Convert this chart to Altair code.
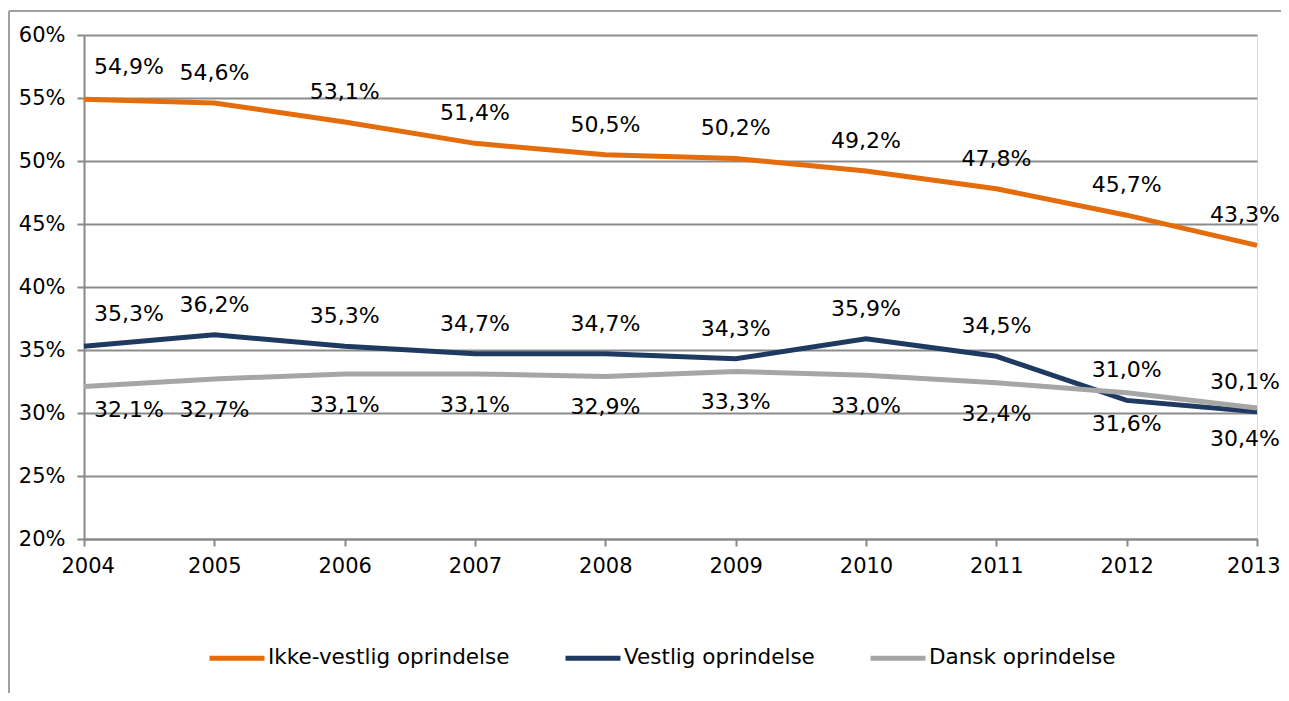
import altair as alt
import pandas as pd

years = [2004, 2005, 2006, 2007, 2008, 2009, 2010, 2011, 2012, 2013]
series = ["Ikke-vestlig oprindelse", "Vestlig oprindelse", "Dansk oprindelse"]
ikke_vestlig = [54.9, 54.6, 53.1, 51.4, 50.5, 50.2, 49.2, 47.8, 45.7, 43.3]
vestlig = [35.3, 36.2, 35.3, 34.7, 34.7, 34.3, 35.9, 34.5, 31.0, 30.1]
dansk = [32.1, 32.7, 33.1, 33.1, 32.9, 33.3, 33.0, 32.4, 31.6, 30.4]
colors = ["#E46C0A", "#1F3A60", "#A6A6A6"]
y_ticks = [20, 25, 30, 35, 40, 45, 50, 55, 60]

rows = []
for name, vals in zip(series, [ikke_vestlig, vestlig, dansk]):
    for yr, v in zip(years, vals):
        rows.append({"year": yr, "value": v, "series": name})
df = pd.DataFrame(rows)

FONT = "DejaVu Sans"
AFS = 21
LFS = 22
GFS = 21.5
W, H = 1173, 504

x = alt.X("year:Q", scale=alt.Scale(domain=[2004, 2013], nice=False, zero=False),
          axis=alt.Axis(values=years, format="d", title=None, grid=False,
                        domainColor="#888888", domainWidth=2, tickColor="#888888",
                        tickWidth=2, tickSize=7, labelPadding=9, labelFontSize=AFS,
                        labelFont=FONT, labelColor="#000000", labelFlush=True,
                        labelFlushOffset=23, labelOverlap=False))
y = alt.Y("value:Q", scale=alt.Scale(domain=[20, 60], nice=False, zero=False),
          axis=alt.Axis(values=y_ticks, title=None, grid=True, gridColor="#8C8C8C",
                        gridWidth=2, domainColor="#888888", domainWidth=2,
                        tickColor="#888888", tickWidth=2, tickSize=7, labelPadding=12,
                        labelExpr="datum.value + '%'", labelFontSize=AFS, labelFont=FONT,
                        labelColor="#000000"))
color = alt.Color("series:N", scale=alt.Scale(domain=series, range=colors),
                  legend=alt.Legend(title=None, orient="none", legendX=123, legendY=593,
                                    direction="horizontal", symbolType="stroke",
                                    symbolStrokeWidth=5, symbolSize=3025,
                                    labelFontSize=GFS, labelFont=FONT, labelColor="#000000",
                                    labelOffset=1, columnPadding=45, labelLimit=400))

base = alt.Chart(df).encode(x=x, y=y)

lines = alt.layer(*[
    base.transform_filter(alt.datum.series == s).mark_line(strokeWidth=5, strokeCap="butt")
    .encode(color=color)
    for s in series
])

lab = base.transform_calculate(
    label="replace(format(datum.value, '.1f'), '.', ',') + '%'"
)


def labels(names, dy, dy_first):
    f = alt.FieldOneOfPredicate(field="series", oneOf=names)
    style = dict(font=FONT, fontSize=LFS, color="#000000", baseline="middle")
    mid = lab.transform_filter(f).transform_filter(
        (alt.datum.year > 2004) & (alt.datum.year < 2013)
    ).mark_text(dy=dy, align="center", **style).encode(text="label:N")
    first = lab.transform_filter(f).transform_filter(alt.datum.year == 2004).mark_text(
        dy=dy_first, dx=10, align="left", **style).encode(text="label:N")
    last = lab.transform_filter(f).transform_filter(alt.datum.year == 2013).mark_text(
        dy=dy, dx=23, align="right", **style).encode(text="label:N")
    return mid + first + last


above = labels(["Ikke-vestlig oprindelse", "Vestlig oprindelse"], -30, -32)
below = labels(["Dansk oprindelse"], 31, 23)

one = alt.Chart(pd.DataFrame({"a": [0]}))
frame_top = one.mark_rule(color="#A0A0A0", strokeWidth=2).encode(
    x=alt.value(-75), x2=alt.value(W + 40), y=alt.value(-24))
frame_left = one.mark_rule(color="#A0A0A0", strokeWidth=2).encode(
    x=alt.value(-75), y=alt.value(-24), y2=alt.value(H + 200))

chart = alt.layer(frame_top, frame_left, lines, above, below).properties(
    width=W, height=H,
    autosize=alt.AutoSizeParams(type="none"),
    padding={"left": 76, "top": 27, "right": 24, "bottom": 154},
).configure_view(stroke=None).configure(background="#ffffff")

chart.save("out.html", embed_options={"renderer": "svg", "actions": False})
